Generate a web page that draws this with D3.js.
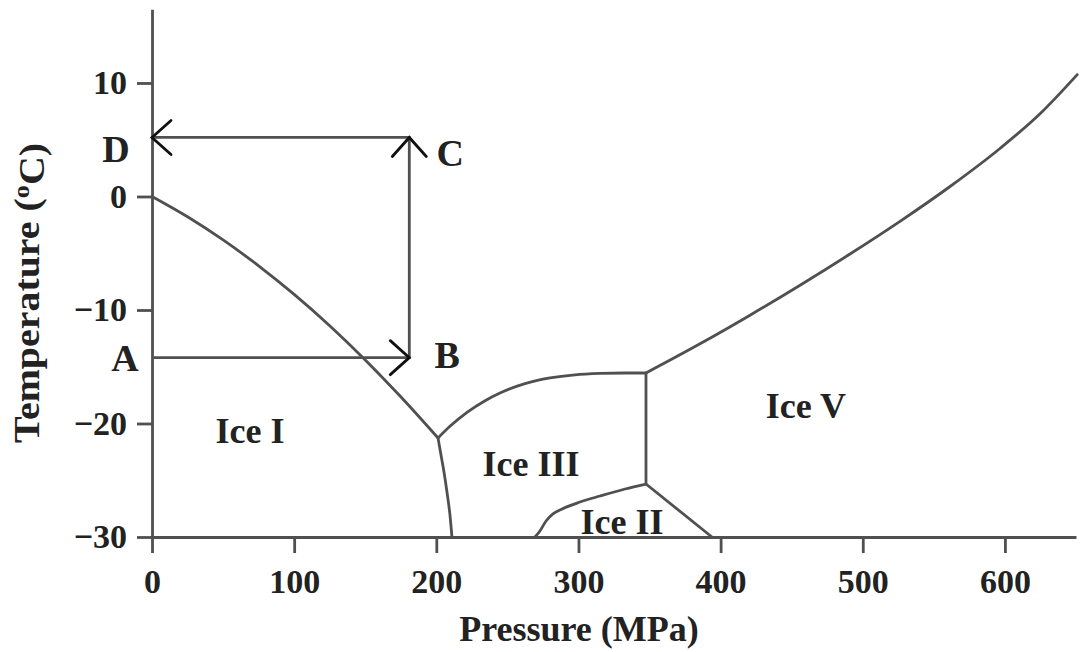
<!DOCTYPE html>
<html>
<head>
<meta charset="utf-8">
<script src="https://cdn.jsdelivr.net/npm/d3@7"></script>
<style>
  html, body { margin: 0; padding: 0; background: #fff; }
  svg { display: block; }
  text { font-family: "Liberation Serif", "Times New Roman", serif; font-weight: bold; fill: #222; }
</style>
</head>
<body>
<svg id="chart" width="1081" height="652"></svg>
<script>
// Phase diagram of water (pressure in MPa, temperature in °C)

const xTicks = [0, 100, 200, 300, 400, 500, 600];
const yTicks = [-30, -20, -10, 0, 10];

// Phase boundaries as [pressure, temperature]
const iceILiquid   = [[0, 0], [25, -1.79], [50, -3.83], [75, -6.11], [100, -8.63], [125, -11.39], [150, -14.4], [175, -17.65], [201.2, -21.28]];
const iceIIceIII   = [[201.2, -21.28], [203.3, -22.78], [205.4, -24.27], [207.5, -26.04], [209.6, -28.06], [211.0, -30]];
const iceIIILiquid = [[201.2, -21.28], [209.6, -20.25], [221.6, -19.02], [234.3, -17.99], [244.8, -17.31], [262.4, -16.49], [280.0, -15.99], [297.6, -15.71], [315.2, -15.59], [332.8, -15.55], [347.5, -15.55]];
const iceIIIIceV   = [[347.5, -15.55], [347.5, -25.33]];
const iceIIIceIII  = [[269.4, -30], [272.9, -29.47], [277.2, -28.59], [282.1, -27.97], [288.5, -27.53], [301.1, -26.92], [315.2, -26.39], [332.8, -25.77], [347.5, -25.33]];
const iceIIIceV    = [[347.5, -25.33], [393.9, -30]];
const iceVLiquid   = [[347.5, -15.55], [385.5, -12.98], [420.7, -10.46], [455.9, -7.82], [491.0, -5.07], [526.2, -2.19], [561.4, 0.88], [596.5, 4.23], [624.7, 7.29], [651.4, 10.81]];

// Process path A -> B -> C -> D
const pathPoints = [
  { name: "A", p: 0,   t: -14.2 },
  { name: "B", p: 181, t: -14.2 },
  { name: "C", p: 181, t: 5.2 },
  { name: "D", p: 0,   t: 5.2 }
];

// Region labels
const regions = [
  { name: "Ice I",   p: 69,    t: -20.6 },
  { name: "Ice III", p: 266.6, t: -23.5 },
  { name: "Ice II",  p: 330.6, t: -28.6 },
  { name: "Ice V",   p: 460,   t: -18.4 }
];

const svg = d3.select("#chart");

const x = d3.scaleLinear().domain([0, 650]).range([152, 1076]);
const y = d3.scaleLinear().domain([-30, 16.5]).range([537, 9.2]);

const lineColor = "#505050";
const lineWidth = 2.8;

// Axes
const xAxis = d3.axisBottom(x).tickValues(xTicks).tickSize(16).tickSizeOuter(0).tickPadding(16);
const yAxis = d3.axisLeft(y).tickValues(yTicks).tickSize(15).tickSizeOuter(0).tickPadding(10);

const gx = svg.append("g").attr("transform", `translate(0,${y(-30)})`).call(xAxis);
const gy = svg.append("g").attr("transform", `translate(${x(0)},0)`).call(yAxis);

[gx, gy].forEach(g => {
  g.select(".domain").attr("stroke", lineColor).attr("stroke-width", lineWidth);
  g.selectAll(".tick line").attr("stroke", lineColor).attr("stroke-width", lineWidth);
  g.selectAll(".tick text")
    .attr("fill", "#222")
    .style("font-family", '"Liberation Serif", serif')
    .style("font-weight", "bold")
    .style("font-size", "34px");
});

// Phase boundaries
const curve = d3.line().x(d => x(d[0])).y(d => y(d[1])).curve(d3.curveMonotoneX);
const straight = d3.line().x(d => x(d[0])).y(d => y(d[1]));

const boundaries = svg.append("g")
  .attr("fill", "none")
  .attr("stroke", lineColor)
  .attr("stroke-width", lineWidth)
  .attr("stroke-linejoin", "round");

[iceILiquid, iceIIceIII, iceIIILiquid, iceIIIceIII, iceVLiquid].forEach(d =>
  boundaries.append("path").attr("d", curve(d)));
[iceIIIIceV, iceIIIceV].forEach(d =>
  boundaries.append("path").attr("d", straight(d)));

// Process path lines
svg.append("path")
  .attr("d", straight(pathPoints.map(d => [d.p, d.t])))
  .attr("fill", "none")
  .attr("stroke", lineColor)
  .attr("stroke-width", lineWidth);

// Open chevron arrowheads at B, C and D
const heads = [
  { at: pathPoints[1], dir: [1, 0] },
  { at: pathPoints[2], dir: [0, -1] },
  { at: pathPoints[3], dir: [-1, 0] }
];
const headLen = 19, headHalf = 17;
svg.append("g")
  .selectAll("path")
  .data(heads)
  .join("path")
  .attr("d", d => {
    const tx = x(d.at.p), ty = y(d.at.t);
    const [ux, uy] = d.dir;
    const bx = tx - ux * headLen, by = ty - uy * headLen;
    const px = -uy * headHalf, py = ux * headHalf;
    return `M${bx + px},${by + py}L${tx},${ty}L${bx - px},${by - py}`;
  })
  .attr("fill", "none")
  .attr("stroke", "#111")
  .attr("stroke-width", 2.8)
  .attr("stroke-linecap", "round");

// Point letters
const letterOffset = { A: [-27, 0], B: [38, -3], C: [41, 15], D: [-36, 11] };
svg.append("g")
  .selectAll("text")
  .data(pathPoints)
  .join("text")
  .attr("x", d => x(d.p) + letterOffset[d.name][0])
  .attr("y", d => y(d.t) + letterOffset[d.name][1])
  .attr("dy", "0.35em")
  .attr("text-anchor", "middle")
  .style("font-size", "38px")
  .text(d => d.name);

// Region labels
svg.append("g")
  .selectAll("text")
  .data(regions)
  .join("text")
  .attr("x", d => x(d.p))
  .attr("y", d => y(d.t))
  .attr("dy", "0.35em")
  .attr("text-anchor", "middle")
  .style("font-size", "36px")
  .text(d => d.name);

// Axis titles
svg.append("text")
  .attr("x", 579)
  .attr("y", 641)
  .attr("text-anchor", "middle")
  .style("font-size", "36px")
  .text("Pressure (MPa)");

const yTitle = svg.append("text")
  .attr("transform", "translate(39,293) rotate(-90) scale(1.14,1)")
  .attr("text-anchor", "middle")
  .style("font-size", "35px");
yTitle.append("tspan").text("Temperature (");
yTitle.append("tspan").attr("dy", "-0.45em").style("font-size", "23px").text("o");
yTitle.append("tspan").attr("dy", "0.45em").text("C)");
</script>
</body>
</html>
